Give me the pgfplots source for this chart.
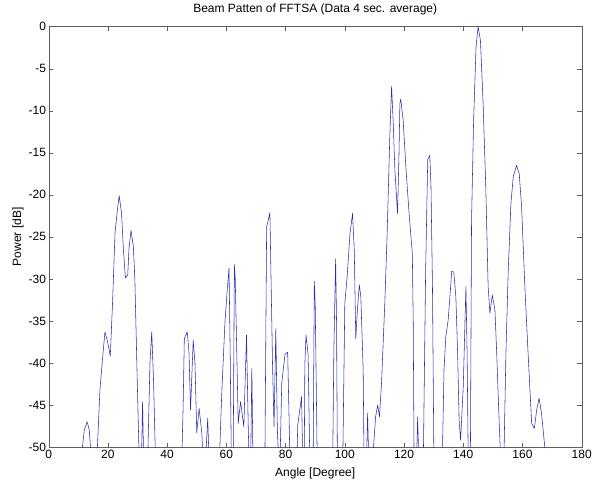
\documentclass[border=0pt]{standalone}
\usepackage{fontspec}
\setmainfont{Liberation Sans}
\usepackage{pgfplots}
\pgfplotsset{compat=1.18}
\definecolor{mlblue}{RGB}{45,45,170}
\definecolor{axgray}{RGB}{95,95,95}

% beam pattern, angle [deg] vs power [dB]; points below -50 are clipped
\pgfplotstableread{
ang pow
0 -60
10.8 -52
12.0 -48.0
13.0 -47.0
13.7 -48.0
14.5 -52
16.2 -52
17.3 -43.2
18.2 -39.4
19.0 -36.3
19.9 -37.5
20.8 -39.2
21.6 -32.5
22.4 -24.5
23.2 -21.8
23.8 -20.1
24.6 -22.2
25.2 -26.3
25.9 -29.9
26.7 -29.5
27.1 -26.5
27.8 -24.2
28.6 -26.2
29.1 -30.1
30.1 -45.0
30.6 -52
31.3 -52
31.7 -44.6
32.1 -52
33.4 -52
34.2 -40.0
34.8 -36.3
35.4 -42.0
36.1 -52
44.9 -52
45.4 -45.2
45.8 -37.1
46.8 -36.3
47.4 -38.9
47.9 -45.6
48.8 -37.3
49.4 -40.0
50.0 -48.3
50.8 -45.4
51.7 -48.3
52.2 -52
52.9 -52
53.7 -46.6
54.2 -52
57.6 -52
58.4 -44.0
59.5 -35.3
60.3 -31.3
60.9 -28.7
61.3 -39.2
61.7 -52
62.3 -52
62.7 -28.3
63.0 -30.0
63.5 -38.5
64.0 -47.2
64.8 -44.6
65.3 -46.0
65.9 -47.6
66.8 -36.7
67.4 -47.8
67.7 -52
68.2 -52
68.6 -40.6
69.0 -52
73.0 -52
73.6 -23.8
74.4 -22.6
74.7 -22.1
75.0 -28.3
75.6 -40.4
76.1 -47.6
76.7 -35.9
77.2 -47.7
77.7 -52
78.2 -50.5
78.7 -42.4
79.8 -39.0
80.7 -38.7
81.5 -52
83.8 -52
84.1 -47.4
85.4 -44.0
85.8 -52
86.3 -52
86.5 -40.2
86.9 -36.7
87.6 -39.0
88.2 -52
89.3 -52
89.7 -30.3
90.0 -33.0
90.7 -52
95.9 -52
96.3 -38.5
96.9 -27.6
97.2 -34.9
97.5 -52
99.3 -52
100.0 -32.9
100.8 -29.7
101.7 -24.8
102.6 -22.2
103.2 -26.6
103.7 -37.1
104.3 -33.4
104.9 -30.7
105.4 -32.1
106.2 -40.8
106.5 -52
107.3 -52
107.7 -46.0
108.1 -52
109.3 -52
110.4 -46.4
111.1 -45.0
111.7 -46.4
112.4 -42.4
113.5 -32.9
114.3 -24.6
115.2 -13.0
115.8 -7.1
116.4 -11.9
116.9 -17.0
117.8 -22.2
118.3 -15.1
118.6 -9.1
118.9 -8.6
119.7 -11.1
120.6 -16.6
121.7 -22.2
122.8 -27.0
123.1 -34.9
123.4 -52
124.2 -52
124.6 -46.4
125.0 -52
126.5 -52
127.3 -28.9
128.0 -15.8
128.7 -15.3
129.1 -19.0
129.6 -30.9
130.1 -52
132.9 -52
133.5 -40.8
134.1 -36.9
134.9 -34.9
135.5 -32.1
136.1 -29.1
136.8 -29.2
137.5 -32.1
138.1 -38.9
138.6 -46.8
139.1 -49.2
140.0 -42.8
140.9 -30.9
141.3 -38.9
141.7 -52
142.4 -52
142.8 -23.0
143.5 -11.1
144.3 -2.5
145.0 0.0
145.8 -1.6
146.7 -9.1
147.6 -19.0
148.4 -30.9
149.0 -34.1
149.8 -31.9
150.7 -33.7
151.3 -38.9
152.1 -46.8
152.7 -52
153.7 -52
154.4 -38.9
155.2 -28.9
156.1 -21.0
156.9 -17.8
158.0 -16.5
158.9 -17.5
159.7 -21.4
160.8 -30.9
161.9 -38.9
163.1 -47.2
164.0 -47.8
164.8 -45.6
165.6 -44.2
166.4 -45.9
167.2 -48.8
168.1 -52
180 -60
}\beamtable

\begin{document}
\begin{tikzpicture}
\useasboundingbox (-48.7pt,-38pt) rectangle (545.3pt,447pt);
\begin{axis}[
    scale only axis, width=533pt, height=420.3pt,
    xmin=0, xmax=180, ymin=-50, ymax=0,
    xtick={0,20,...,180}, ytick={-50,-45,...,0},
    yticklabels={-50,-45,-40,-35,-30,-25,-20,-15,-10,-5,0},
    xticklabels={0,20,40,60,80,100,120,140,160,180},
    tick align=inside, major tick length=4.5pt,
    axis line style={axgray}, tick style={axgray, line width=0.4pt},
    every axis/.append style={font=\fontsize{12}{14}\selectfont},
    ticklabel style={font=\fontsize{12}{14}\selectfont, text=black},
    yticklabel style={inner sep=2.5pt},
    xticklabel style={inner sep=2.5pt},
    title={Beam Patten of FFTSA (Data 4 sec. average)},
    title style={at={(axis description cs:0.5,1.028)}, anchor=center, font=\fontsize{12}{14}\selectfont},
    xlabel={Angle [Degree]},
    xlabel style={at={(axis description cs:0.5,-0.062)}, anchor=center, font=\fontsize{12}{14}\selectfont},
    ylabel={Power [dB]},
    ylabel style={at={(axis description cs:-0.0576,0.5)}, anchor=center, font=\fontsize{12}{14}\selectfont},
  ]
  \addplot[mlblue, line width=0.55pt, line join=round] table[x=ang, y=pow] {\beamtable};
\end{axis}
\end{tikzpicture}
\end{document}
